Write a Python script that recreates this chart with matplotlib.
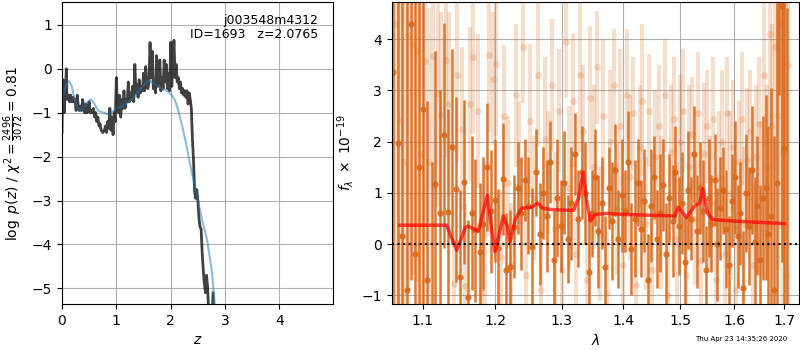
import numpy as np
import matplotlib
matplotlib.use("Agg")
import matplotlib.pyplot as plt
from matplotlib.ticker import FixedLocator, FixedFormatter, NullLocator

# ---- p(z) panel ----
z_pz = [0.00, 0.01, 0.02, 0.03, 0.04, 0.05, 0.06, 0.07, 0.08, 0.09,
        0.10, 0.12, 0.14, 0.16, 0.18, 0.20, 0.22, 0.24, 0.26, 0.28,
        0.30, 0.32, 0.34, 0.36, 0.38, 0.40, 0.42, 0.44, 0.46, 0.48,
        0.50, 0.52, 0.54, 0.56, 0.58, 0.60, 0.62, 0.64, 0.66, 0.68,
        0.70, 0.72, 0.75, 0.78, 0.80, 0.82, 0.84, 0.86, 0.88, 0.90,
        0.92, 0.94, 0.96, 0.98, 1.00, 1.02, 1.04, 1.06, 1.08, 1.10,
        1.12, 1.14, 1.16, 1.18, 1.20, 1.22, 1.24, 1.26, 1.28, 1.30,
        1.32, 1.34, 1.36, 1.38, 1.40, 1.42, 1.44, 1.46, 1.48, 1.50,
        1.52, 1.54, 1.56, 1.58, 1.60, 1.62, 1.64, 1.66, 1.68, 1.70,
        1.72, 1.74, 1.76, 1.78, 1.80, 1.82, 1.84, 1.86, 1.88, 1.90,
        1.92, 1.94, 1.96, 1.98, 2.00, 2.02, 2.04, 2.06, 2.08, 2.10,
        2.12, 2.14, 2.16, 2.18, 2.20, 2.22, 2.24, 2.26, 2.28, 2.30,
        2.32, 2.34, 2.36, 2.38, 2.40, 2.42, 2.44, 2.46, 2.48, 2.50,
        2.52, 2.54, 2.56, 2.58, 2.60, 2.62, 2.64, 2.66, 2.68, 2.70,
        2.74, 2.78, 2.80, 3.00, 5.00]
logpz = [-1.45, -0.5, -0.25, -0.6, -1.0, -0.55, -0.7, -0.3, 0.0, -0.6,
         -0.7, -0.6, -0.75, -0.6, -0.75, -0.65, -0.75, -0.7, -0.95, -0.6,
         -0.85, -0.95, -0.85, -0.95, -0.7, -0.9, -1.0, -0.8, -1.0, -0.95,
         -0.75, -1.0, -0.95, -1.0, -0.9, -1.1, -1.0, -1.2, -1.1, -1.3,
         -1.25, -1.4, -1.45, -1.4, -1.3, -1.45, -1.2, -1.35, -0.9, -1.4,
         -1.1, -1.5, -1.0, -1.2, -0.2, -0.9, -1.0, -0.6, -1.1, -0.7,
         -0.9, -0.5, -0.9, -0.7, -0.75, -0.3, -0.75, -0.55, -0.7, -0.4,
         -0.75, 0.1, -0.55, -0.35, -0.65, -0.25, -0.55, -0.4, -0.5, -0.1,
         -0.5, 0.05, -0.4, -0.45, -0.3, 0.6, -0.2, 0.4, -0.45, -0.3,
         -0.55, 0.3, -0.4, -0.2, 0.2, -0.5, -0.2, -0.45, 0.2, -0.3,
         0.1, -0.45, -0.1, -0.5, 0.6, -0.4, 0.2, 0.65, -0.2, 0.1,
         -0.3, -0.2, -0.45, -0.3, -0.55, -0.45, -0.6, -0.5, -0.65, -0.5,
         -0.8, -0.55, -0.7, -0.9, -1.6, -2.1, -2.8, -2.95, -2.75, -3.0,
         -3.4, -3.6, -3.65, -4.2, -4.6, -4.9, -5.1, -4.7, -5.0, -5.6,
         -6.5, -5.1, -6.5, -12.0, -30.0]

z_smooth = [0.00, 0.03, 0.08, 0.13, 0.18, 0.23, 0.28, 0.33, 0.40, 0.47,
            0.54, 0.60, 0.66, 0.72, 0.78, 0.85, 0.92, 1.00, 1.10, 1.20,
            1.30, 1.40, 1.50, 1.58, 1.64, 1.72, 1.80, 1.88, 1.95, 2.02,
            2.08, 2.14, 2.20, 2.27, 2.33, 2.39, 2.45, 2.50, 2.57, 2.62,
            2.67, 2.72, 2.76, 2.80, 2.84, 3.00, 5.00]
logpz_smooth = [-0.85, -0.55, -0.35, -0.28, -0.4, -0.7, -0.88, -0.95, -0.88, -0.75,
                -0.7, -0.8, -0.95, -0.98, -1.0, -1.05, -0.98, -0.9, -0.85, -0.78,
                -0.68, -0.52, -0.38, -0.28, -0.3, -0.36, -0.42, -0.47, -0.52, -0.6,
                -0.72, -0.95, -1.25, -1.62, -2.0, -2.37, -2.7, -2.98, -3.4, -3.65,
                -3.9, -4.3, -4.65, -5.2, -5.8, -8.0, -30.0]

# ---- spectrum panel ----
wave_dark = [1.062, 1.068, 1.073, 1.079, 1.084, 1.090, 1.095, 1.101, 1.106, 1.112,
             1.117, 1.123, 1.128, 1.134, 1.139, 1.145, 1.150, 1.156, 1.161, 1.167,
             1.172, 1.178, 1.183, 1.189, 1.194, 1.200, 1.205, 1.211, 1.216, 1.222,
             1.227, 1.233, 1.238, 1.244, 1.249, 1.255, 1.260, 1.266, 1.271, 1.277,
             1.282, 1.288, 1.293, 1.299, 1.304, 1.310, 1.315, 1.321, 1.326, 1.332,
             1.337, 1.343, 1.348, 1.354, 1.359, 1.365, 1.370, 1.376, 1.381, 1.387,
             1.392, 1.398, 1.403, 1.409, 1.414, 1.420, 1.425, 1.431, 1.436, 1.442,
             1.447, 1.453, 1.458, 1.464, 1.469, 1.475, 1.480, 1.486, 1.491, 1.497,
             1.502, 1.508, 1.513, 1.519, 1.524, 1.530, 1.535, 1.541, 1.546, 1.552,
             1.557, 1.563, 1.568, 1.574, 1.579, 1.585, 1.590, 1.596, 1.601, 1.607,
             1.612, 1.618, 1.623, 1.629, 1.634, 1.640, 1.645, 1.651, 1.656, 1.662,
             1.667, 1.673, 1.678, 1.684, 1.689, 1.695, 1.700, 1.706]
flux_dark = [3.35, 1.97, 0.15, -0.9, 4.3, -0.2, 1.5, 2.63, -0.7, -1.4,
             1.17, 0.6, 2.12, 0.63, 1.9, 1.07, -0.64, 1.21, -1.03, 0.6,
             0.27, -0.15, 0.4, 1.5, 0.64, 0.86, -0.08, 1.27, -0.5, -0.44,
             0.34, 1.1, 0.6, 1.25, 0.75, -0.05, 1.4, 0.2, 1.0, 0.55,
             1.6, -0.3, 0.9, 0.35, 1.2, 0.1, 0.8, 1.75, 0.5, 1.4,
             1.0, -0.55, 0.6, 1.3, 0.25, 0.8, -0.45, 1.1, 0.45, 1.45,
             0.1, 0.95, 0.65, 1.6, -0.1, 0.5, 1.2, 0.3, 0.85, -0.7,
             0.75, 1.3, 0.1, 0.6, 1.15, -0.2, 0.9, 0.45, 1.4, 0.35,
             0.8, -0.35, 1.05, 0.5, 1.75, 0.25, 1.1, 0.65, -0.5, 0.9,
             0.4, 1.25, 0.0, 0.7, 1.05, 0.3, -0.4, 0.85, 1.3, 0.15,
             0.6, -0.85, 1.0, 0.35, 1.45, 0.05, 0.75, -0.3, 0.9, 1.1,
             0.2, 0.55, -0.9, 1.2, 6.0, 4.65, 1.87, -1.4]
err_dark = [6.0, 5.0, 5.0, 6.0, 5.0, 5.0, 4.0, 4.0, 3.5, 3.0,
            2.6, 2.4, 2.2, 2.0, 1.9, 1.8, 1.7, 1.6, 1.5, 1.5,
            1.4, 1.35, 1.3, 1.25, 1.2, 1.2, 1.15, 1.1, 1.1, 1.1,
            1.0, 0.9, 1.1, 0.8, 0.95, 1.15, 0.85, 1.0, 0.9, 1.1,
            0.8, 0.95, 1.15, 0.9, 1.0, 0.85, 1.1, 0.8, 0.95, 0.9,
            1.0, 1.15, 0.85, 0.95, 1.1, 0.9, 1.0, 0.8, 1.15, 0.9,
            0.95, 1.1, 0.8, 1.0, 0.9, 1.15, 0.85, 0.95, 1.0, 0.9,
            1.1, 0.8, 0.95, 1.15, 0.9, 1.0, 0.85, 1.1, 0.9, 0.95,
            1.0, 0.9, 1.15, 0.8, 0.95, 1.1, 0.9, 1.0, 0.85, 1.15,
            0.95, 0.9, 1.1, 1.0, 0.85, 1.15, 0.95, 0.9, 1.1, 1.0,
            1.0, 1.1, 1.15, 1.15, 1.25, 1.25, 1.35, 1.45, 1.6, 1.8,
            2.1, 2.5, 3.0, 3.5, 3.1, 5.0, 6.0, 6.0]

wave_light = [1.065, 1.070, 1.076, 1.081, 1.087, 1.092, 1.098, 1.103, 1.109, 1.114,
              1.120, 1.125, 1.131, 1.136, 1.142, 1.147, 1.153, 1.158, 1.164, 1.169,
              1.175, 1.180, 1.186, 1.191, 1.197, 1.202, 1.208, 1.213, 1.219, 1.224,
              1.230, 1.235, 1.241, 1.246, 1.252, 1.257, 1.263, 1.268, 1.274, 1.279,
              1.285, 1.290, 1.296, 1.301, 1.307, 1.312, 1.318, 1.323, 1.329, 1.334,
              1.340, 1.345, 1.351, 1.356, 1.362, 1.367, 1.373, 1.378, 1.384, 1.389,
              1.395, 1.400, 1.406, 1.411, 1.417, 1.422, 1.428, 1.433, 1.439, 1.444,
              1.450, 1.455, 1.461, 1.466, 1.472, 1.477, 1.483, 1.488, 1.494, 1.499,
              1.505, 1.510, 1.516, 1.521, 1.527, 1.532, 1.538, 1.543, 1.549, 1.554,
              1.560, 1.565, 1.571, 1.576, 1.582, 1.587, 1.593, 1.598, 1.604, 1.609,
              1.615, 1.620, 1.626, 1.631, 1.637, 1.642, 1.648, 1.653, 1.659, 1.664,
              1.670, 1.675, 1.681, 1.686, 1.692, 1.697, 1.703, 1.708]
flux_light = [4.3, 2.4, 1.6, 4.07, 3.9, 3.77, 1.75, 3.58, 1.6, 3.66,
              2.95, 2.52, 3.6, 2.73, -0.77, 3.29, 2.24, -0.82, 2.74, 3.65,
              2.6, -0.96, 0.2, 3.68, 3.23, 3.51, -0.25, 2.49, 1.2, -0.4,
              2.9, 1.6, 3.85, -0.6, 2.4, 0.9, 3.3, -0.9, 2.05, 1.4,
              3.1, 0.3, 2.6, -0.5, 3.95, 1.1, 2.8, -0.2, 3.3, 2.2,
              -0.7, 2.85, 1.5, 3.45, 0.2, 2.5, -0.95, 2.0, 3.1, 0.7,
              2.3, -0.4, 2.9, 1.3, 2.55, -0.8, 1.9, 2.8, 0.4, 2.6,
              -0.5, 1.7, 2.3, 0.6, 2.9, -1.0, 1.8, 2.45, 0.1, 2.0,
              2.6, -0.6, 1.5, 2.15, 0.5, 2.55, -0.3, 1.75, 2.3, 0.8,
              2.45, -0.7, 1.3, 2.0, -0.2, 2.55, 1.0, 1.9, -0.9, 1.6,
              2.45, 0.4, 1.65, 2.2, -0.4, 1.7, 2.35, 0.9, 3.3, 1.5,
              4.1, 2.3, 3.85, 2.5, 4.3, 1.8, -0.6, 3.5]
err_light = [6.0, 5.5, 5.0, 5.0, 4.5, 4.5, 4.0, 3.5, 3.0, 2.6,
             2.2, 2.0, 1.9, 1.8, 1.7, 1.7, 1.6, 1.6, 1.5, 1.5,
             1.5, 1.4, 1.4, 1.5, 1.3, 1.4, 1.3, 1.4, 1.3, 1.2,
             1.4, 1.2, 1.1, 1.3, 1.5, 1.2, 1.4, 1.1, 1.6, 1.2,
             1.3, 1.5, 1.2, 1.4, 1.1, 1.6, 1.3, 1.2, 1.5, 1.3,
             1.2, 1.4, 1.6, 1.1, 1.3, 1.5, 1.2, 1.4, 1.1, 1.3,
             1.5, 1.2, 1.3, 1.6, 1.1, 1.4, 1.2, 1.5, 1.3, 1.1,
             1.4, 1.3, 1.2, 1.5, 1.1, 1.4, 1.3, 1.2, 1.5, 1.3,
             1.2, 1.4, 1.6, 1.1, 1.3, 1.2, 1.5, 1.4, 1.1, 1.3,
             1.2, 1.5, 1.3, 1.4, 1.2, 1.1, 1.6, 1.3, 1.4, 1.2,
             1.3, 1.5, 1.4, 1.2, 1.6, 1.4, 1.3, 1.5, 1.4, 1.6,
             1.8, 2.0, 2.4, 3.0, 4.0, 5.0, 6.0, 6.0]

wave_model = [1.070, 1.132, 1.146, 1.158, 1.162, 1.176, 1.189, 1.195, 1.200, 1.212,
              1.218, 1.222, 1.230, 1.239, 1.254, 1.263, 1.271, 1.288, 1.319, 1.327,
              1.334, 1.340, 1.346, 1.354, 1.373, 1.400, 1.490, 1.496, 1.511, 1.526,
              1.535, 1.541, 1.550, 1.559, 1.600, 1.700]
flux_model = [0.37, 0.37, -0.12, 0.33, 0.35, 0.25, 0.95, 0.3, -0.15, 0.55,
              0.35, 0.05, 0.5, 0.7, 0.72, 0.8, 0.7, 0.67, 0.66, 0.9,
              1.4, 0.85, 0.45, 0.58, 0.6, 0.58, 0.55, 0.72, 0.52, 0.75,
              0.8, 1.08, 0.6, 0.48, 0.45, 0.4]

wave_ticks = [1.1, 1.2, 1.3, 1.4, 1.5, 1.6, 1.7]

orange = "#d8691c"

fig = plt.figure(figsize=(8, 3.5), dpi=100)
ax1 = fig.add_axes([0.0775, 0.131, 0.339, 0.863])
ax2 = fig.add_axes([0.4896, 0.131, 0.509, 0.863])

# p(z)
ax1.plot(z_pz, logpz, color="k", alpha=0.75, lw=2)
ax1.plot(z_smooth, logpz_smooth, color="tab:blue", alpha=0.5, lw=1.5)
ax1.set_xlim(0, 4.99)
ax1.set_ylim(-5.36, 1.52)
ax1.set_xticks([0, 1, 2, 3, 4])
ax1.set_yticks([-5, -4, -3, -2, -1, 0, 1])
ax1.grid()
ax1.set_xlabel(r"$z$")
ax1.set_ylabel(r"$\log\ p(z)$ / $\chi^2=\frac{2496}{3072}=0.81$")
ax1.text(0.945, 0.96, "j003548m4312\nID=1693   z=2.0765", ha="right", va="top",
         transform=ax1.transAxes, fontsize=9, linespacing=1.05)

# spectrum
ax2.errorbar(wave_light, flux_light, yerr=err_light, marker="o", ms=5, ls="none",
             color=orange, alpha=0.22, elinewidth=3, capsize=0, mec="none")
ax2.errorbar(wave_dark, flux_dark, yerr=err_dark, marker="o", ms=4.5, ls="none",
             color=orange, alpha=0.9, elinewidth=1.8, capsize=0, mec="none")
ax2.plot(wave_model, flux_model, color="red", alpha=0.7, lw=2.5, zorder=5)
ax2.axhline(0, color="k", ls=":", lw=1.5, zorder=6)
ax2.set_xscale("log")
ax2.xaxis.set_major_locator(FixedLocator(wave_ticks))
ax2.xaxis.set_major_formatter(FixedFormatter([str(w) for w in wave_ticks]))
ax2.xaxis.set_minor_locator(NullLocator())
ax2.set_xlim(1.0597, 1.7297)
ax2.set_ylim(-1.17, 4.72)
ax2.set_yticks([-1, 0, 1, 2, 3, 4])
ax2.grid()
ax2.set_xlabel(r"$\lambda$")
ax2.set_ylabel(r"$f_\lambda\ \times\ 10^{-19}$")

fig.text(0.984, 0.022, "Thu Apr 23 14:35:26 2020", ha="right", va="bottom", fontsize=5)

fig.savefig("out.png", dpi=100)
